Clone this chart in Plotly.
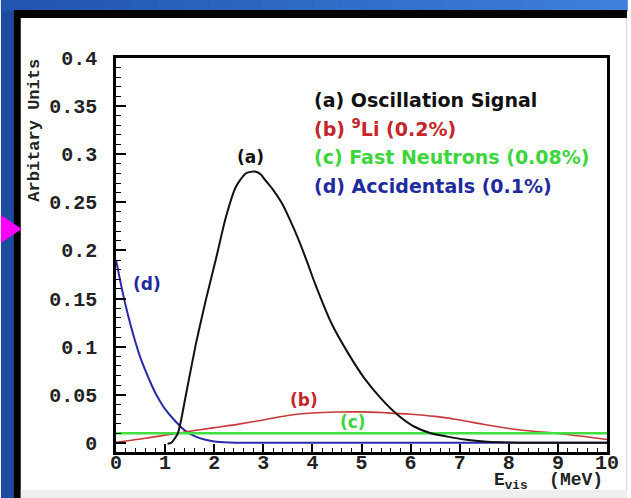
import plotly.graph_objects as go

# ---- spectra (visible energy in MeV, arbitrary units) ----
energy_a = [1.05, 1.125, 1.26, 1.43, 1.63, 1.83, 2.03, 2.24, 2.44, 2.64, 2.77, 2.85,
            2.95, 3.04, 3.20, 3.38, 3.55, 3.72, 3.90, 4.05, 4.39, 4.73, 5.06, 5.40, 5.74,
            6.07, 6.41, 6.75, 7.10, 7.56, 8.00, 8.50, 9.00, 10.0]
signal_a = [-0.0008, 0.0, 0.010, 0.0516, 0.1036, 0.1486, 0.190, 0.235, 0.266, 0.280, 0.2819, 0.2818,
            0.279, 0.273, 0.263, 0.249, 0.231, 0.211, 0.187, 0.166, 0.124, 0.093, 0.067, 0.046, 0.029,
            0.017, 0.010, 0.0065, 0.0035, 0.0012, 0.0004, 0.0, 0.0, 0.0]

energy_b = [0.0, 0.5, 1.0, 1.5, 2.0, 2.5, 3.0, 3.5, 4.0, 4.5, 5.0, 5.5, 6.0, 6.5, 7.0,
            7.5, 8.0, 8.5, 9.0, 9.5, 10.0]
li9_b = [0.0005, 0.004, 0.008, 0.012, 0.0158, 0.0195, 0.0238, 0.0285, 0.031, 0.032, 0.0322,
         0.0312, 0.0298, 0.0275, 0.0238, 0.019, 0.015, 0.012, 0.0098, 0.0068, 0.0035]

energy_c = [0.0, 10.0]
fastn_c = [0.01, 0.01]

energy_d = [0.0, 0.1, 0.2, 0.3, 0.4, 0.5, 0.6, 0.7, 0.8, 0.9, 1.0, 1.2, 1.4, 1.6, 1.8,
            2.0, 2.3, 2.6, 10.0]
accid_d = [0.19, 0.165, 0.142, 0.122, 0.104, 0.088, 0.075, 0.063, 0.052, 0.043, 0.035,
           0.023, 0.013, 0.007, 0.0035, 0.0015, 0.0004, 0.0, 0.0]

y_ticks = [0, 0.05, 0.1, 0.15, 0.2, 0.25, 0.3, 0.35, 0.4]
y_ticktext = ["0", "0.05", "0.1", "0.15", "0.2", "0.25", "0.3", "0.35", "0.4"]

legend_lines = [
    ("(a) Oscillation Signal", "#111111"),
    ("(b) <sup>9</sup>Li (0.2%)", "#c4262b"),
    ("(c) Fast Neutrons (0.08%)", "#3ed43e"),
    ("(d) Accidentals (0.1%)", "#1f2a9c"),
]

W, H = 631, 498
L, R, T, B = 116, 611, 58, 452


def px_x(p):
    return (p - L) / (R - L)


def px_y(p):
    return (B - p) / (B - T)


fig = go.Figure()
fig.add_trace(go.Scatter(x=energy_d, y=accid_d, mode="lines",
                         line=dict(color="#2a2aa8", width=2, shape="spline", smoothing=0.6)))
fig.add_trace(go.Scatter(x=energy_b, y=li9_b, mode="lines",
                         line=dict(color="#c8383a", width=1.6, shape="spline", smoothing=0.8)))
fig.add_trace(go.Scatter(x=energy_c, y=fastn_c, mode="lines",
                         line=dict(color="#3fe03f", width=2.5)))
fig.add_trace(go.Scatter(x=energy_a, y=signal_a, mode="lines",
                         line=dict(color="#111111", width=2, shape="spline", smoothing=0.6)))

# slide background: blue border, black frame, white panel
shapes = [
    dict(type="rect", xref="paper", yref="paper", x0=px_x(0), x1=px_x(W), y0=px_y(H), y1=px_y(0),
         fillcolor="#1d4c9f", line=dict(width=0), layer="below"),
]
n_seg = 24
c0, c1 = (0x21, 0x55, 0xae), (0x3e, 0x80, 0xdc)
for i in range(n_seg):
    t = i / (n_seg - 1)
    col = "rgb({},{},{})".format(*[int(a + (b - a) * t) for a, b in zip(c0, c1)])
    shapes.append(dict(type="rect", xref="paper", yref="paper",
                       x0=px_x(i * W / n_seg), x1=px_x((i + 1) * W / n_seg + 1),
                       y0=px_y(11), y1=px_y(0), fillcolor=col, line=dict(width=0), layer="below"))
shapes += [
    dict(type="rect", xref="paper", yref="paper", x0=px_x(13), x1=px_x(W), y0=px_y(H), y1=px_y(10),
         fillcolor="#000000", line=dict(width=0), layer="below"),
    dict(type="rect", xref="paper", yref="paper", x0=px_x(20), x1=px_x(W), y0=px_y(H), y1=px_y(18),
         fillcolor="#ffffff", line=dict(width=0), layer="below"),
    dict(type="rect", xref="paper", yref="paper", x0=px_x(20), x1=px_x(W), y0=px_y(H), y1=px_y(490),
         fillcolor="#efefef", line=dict(width=0), layer="below"),
    dict(type="path", xref="paper", yref="paper",
         path="M {} {} L {} {} L {} {} Z".format(px_x(0), px_y(215), px_x(21), px_y(229),
                                                  px_x(0), px_y(243)),
         fillcolor="#ff00ff", line=dict(width=0), layer="below"),
]

mono = "Liberation Mono, Courier New, monospace"
sans = "DejaVu Sans, Verdana, sans-serif"

annotations = [
    dict(text="<b>Arbitary Units</b>", xref="paper", yref="paper", x=px_x(33), y=px_y(130),
         xanchor="center", yanchor="middle",
         textangle=-90, showarrow=False, font=dict(family=mono, size=17, color="#222222")),
    dict(text="<b>E<sub>vis</sub>\u00a0\u00a0(MeV)</b>", xref="paper", yref="paper",
         x=px_x(609), y=px_y(481), xanchor="right", yanchor="middle", showarrow=False,
         font=dict(family=mono, size=18, color="#222222")),
    dict(text="<b>(a)</b>", x=2.73, y=0.297, showarrow=False,
         font=dict(family=sans, size=17, color="#111111")),
    dict(text="<b>(b)</b>", x=3.82, y=0.0447, showarrow=False,
         font=dict(family=sans, size=17, color="#c4262b")),
    dict(text="<b>(c)</b>", x=4.83, y=0.0218, showarrow=False,
         font=dict(family=sans, size=17, color="#3ed43e")),
    dict(text="<b>(d)</b>", x=0.63, y=0.165, showarrow=False,
         font=dict(family=sans, size=17, color="#1f2a9c")),
]
for (txt, col), ypx in zip(legend_lines, [100, 128, 157, 186]):
    annotations.append(dict(text="<b>" + txt + "</b>", xref="paper", yref="paper",
                            x=px_x(314), y=px_y(ypx), xanchor="left", yanchor="middle",
                            showarrow=False, font=dict(family=sans, size=19, color=col)))

axis_common = dict(showline=True, linecolor="black", linewidth=2.5, mirror=True,
                   ticks="inside", tickcolor="black", tickwidth=1.5, showgrid=False,
                   zeroline=False, tickfont=dict(family=mono, size=20, color="#222222", weight="bold"))

fig.update_layout(
    width=W, height=H,
    margin=dict(l=L, r=W - R, t=T, b=H - B),
    paper_bgcolor="white", plot_bgcolor="rgba(0,0,0,0)",
    showlegend=False,
    shapes=shapes, annotations=annotations,
    xaxis=dict(range=[0, 10], tick0=0, dtick=1, ticklen=8, ticklabelstandoff=-10,
               minor=dict(dtick=0.2, ticks="inside", ticklen=4, tickcolor="black", tickwidth=1),
               **axis_common),
    yaxis=dict(range=[-0.0095, 0.4], tickvals=y_ticks, ticktext=y_ticktext, ticklen=10,
               ticklabelstandoff=12,
               minor=dict(tick0=0, dtick=0.01, ticks="inside", ticklen=5, tickcolor="black", tickwidth=1),
               **axis_common),
)

fig.write_html("out.html")
